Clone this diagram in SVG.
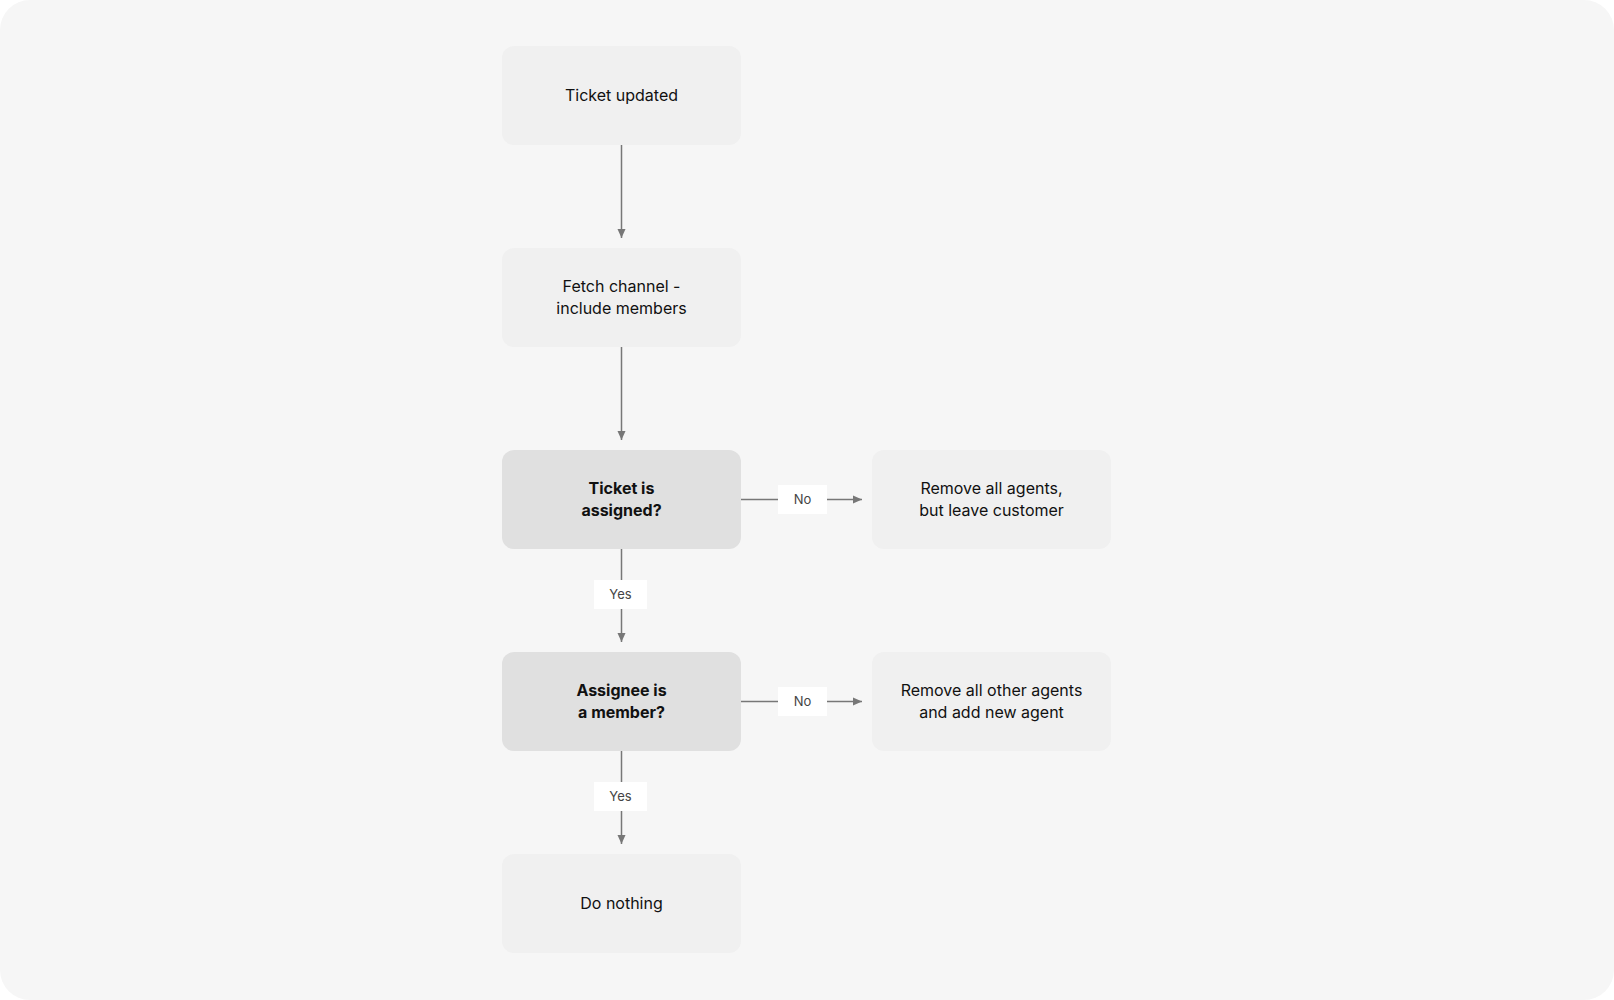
<svg xmlns="http://www.w3.org/2000/svg" width="1614" height="1000" viewBox="0 0 1614 1000">
<style>
.n{fill:#f0f0f0}
.d{fill:#e0e0e0}
.t{font-family:Inter,"Liberation Sans",sans-serif;font-size:16px;fill:#111;text-anchor:middle}
.b{font-weight:700}
.l{font-family:Inter,"Liberation Sans",sans-serif;font-size:13px;fill:#444;text-anchor:middle}
.c{stroke:#777;stroke-width:1.5;fill:none}
</style>
<defs><marker id="a" markerWidth="10" markerHeight="10" refX="9" refY="5" orient="auto" markerUnits="userSpaceOnUse"><path d="M0,1 L9,5 L0,9 Z" fill="#777"/></marker></defs>
<rect width="1614" height="1000" fill="#fff"/>
<rect width="1614" height="1000" rx="30" fill="#f6f6f6"/>
<g id="connectors">
<line class="c" x1="621.5" y1="145" x2="621.5" y2="238" marker-end="url(#a)"/>
<line class="c" x1="621.5" y1="347" x2="621.5" y2="440" marker-end="url(#a)"/>
<line class="c" x1="621.5" y1="549" x2="621.5" y2="642" marker-end="url(#a)"/>
<line class="c" x1="621.5" y1="751" x2="621.5" y2="844" marker-end="url(#a)"/>
<line class="c" x1="741" y1="499.5" x2="862" y2="499.5" marker-end="url(#a)"/>
<line class="c" x1="741" y1="701.5" x2="862" y2="701.5" marker-end="url(#a)"/>
<rect x="778" y="485" width="49" height="29" fill="#fff"/><text class="l" x="802.5" y="504">No</text>
<rect x="778" y="687" width="49" height="29" fill="#fff"/><text class="l" x="802.5" y="706">No</text>
<rect x="594" y="580" width="53" height="29" fill="#fff"/><text class="l" x="620.5" y="599">Yes</text>
<rect x="594" y="782" width="53" height="29" fill="#fff"/><text class="l" x="620.5" y="801">Yes</text>
</g>
<g id="n1"><rect class="n" x="502" y="46" width="239" height="99" rx="12"/><text class="t" x="621.5" y="101">Ticket updated</text></g>
<g id="n2"><rect class="n" x="502" y="248" width="239" height="99" rx="12"/><text class="t" x="621.5" y="292">Fetch channel -</text><text class="t" x="621.5" y="314">include members</text></g>
<g id="n3"><rect class="d" x="502" y="450" width="239" height="99" rx="12"/><text class="t b" x="621.5" y="494">Ticket is</text><text class="t b" x="621.5" y="516">assigned?</text></g>
<g id="n4"><rect class="n" x="872" y="450" width="239" height="99" rx="12"/><text class="t" x="991.5" y="494">Remove all agents,</text><text class="t" x="991.5" y="516">but leave customer</text></g>
<g id="n5"><rect class="d" x="502" y="652" width="239" height="99" rx="12"/><text class="t b" x="621.5" y="696">Assignee is</text><text class="t b" x="621.5" y="718">a member?</text></g>
<g id="n6"><rect class="n" x="872" y="652" width="239" height="99" rx="12"/><text class="t" x="991.5" y="696">Remove all other agents</text><text class="t" x="991.5" y="718">and add new agent</text></g>
<g id="n7"><rect class="n" x="502" y="854" width="239" height="99" rx="12"/><text class="t" x="621.5" y="909">Do nothing</text></g>
</svg>
